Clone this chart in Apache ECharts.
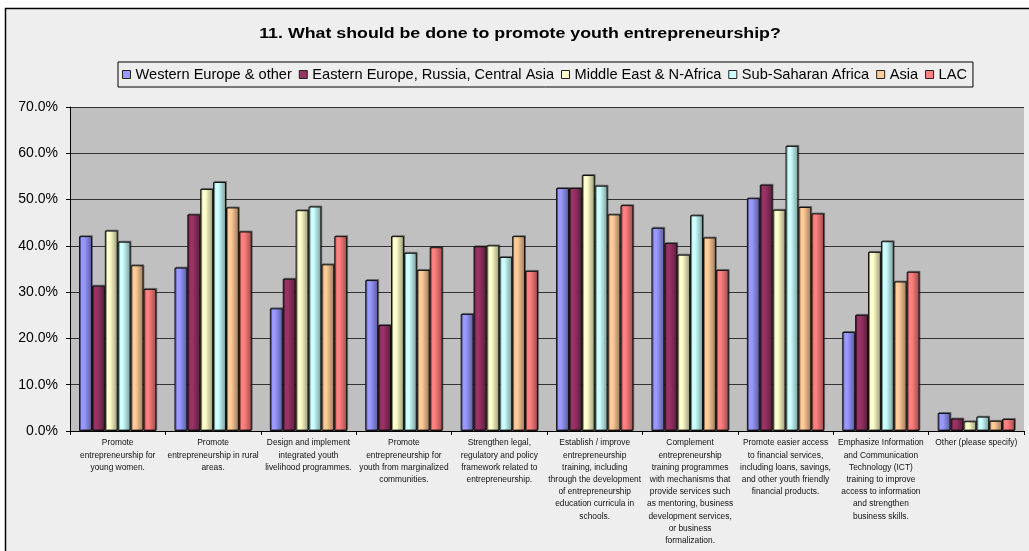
<!DOCTYPE html>
<html>
<head>
<meta charset="utf-8">
<script src="https://cdn.jsdelivr.net/npm/echarts@6/dist/echarts.min.js"></script>
<style>
  html, body { margin: 0; padding: 0; background: #ffffff; }
  #chart { width: 1029px; height: 551px; }
</style>
</head>
<body>
<div id="chart"></div>
<script>
// Survey question 11: share of respondents per region choosing each measure (%)
const categories = [
  'Promote\nentrepreneurship for\nyoung women.',
  'Promote\nentrepreneurship in rural\nareas.',
  'Design and implement\nintegrated youth\nlivelihood programmes.',
  'Promote\nentrepreneurship for\nyouth from marginalized\ncommunities.',
  'Strengthen legal,\nregulatory and policy\nframework related to\nentrepreneurship.',
  'Establish / improve\nentrepreneurship\ntraining, including\nthrough the development\nof entrepreneurship\neducation curricula in\nschools.',
  'Complement\nentrepreneurship\ntraining programmes\nwith mechanisms that\nprovide services such\nas mentoring, business\ndevelopment services,\nor business\nformalization.',
  'Promote easier access\nto financial services,\nincluding loans, savings,\nand other youth friendly\nfinancial products.',
  'Emphasize Information\nand Communication\nTechnology (ICT)\ntraining to improve\naccess to information\nand strengthen\nbusiness skills.',
  'Other (please specify)'
];

const seriesNames = [
  'Western Europe & other',
  'Eastern Europe, Russia, Central Asia',
  'Middle East & N-Africa',
  'Sub-Saharan Africa',
  'Asia',
  'LAC'
];

const westernEurope = [42.1, 35.3, 26.5, 32.6, 25.3, 52.5, 43.9, 50.3, 21.4, 3.9];
const easternEurope = [31.4, 46.8, 32.9, 22.9, 39.9, 52.5, 40.6, 53.2, 25.1, 2.7];
const middleEast    = [43.3, 52.3, 47.7, 42.1, 40.1, 55.3, 38.1, 47.8, 38.7, 2.1];
const subSaharan    = [40.9, 53.8, 48.5, 38.5, 37.6, 53.0, 46.6, 61.6, 41.0, 3.1];
const asia          = [35.8, 48.3, 36.0, 34.8, 42.1, 46.8, 41.8, 48.4, 32.3, 2.2];
const lac           = [30.7, 43.1, 42.1, 39.7, 34.6, 48.8, 34.8, 47.0, 34.4, 2.6];

const yTicks = [0, 10, 20, 30, 40, 50, 60, 70];

const titleText = '11. What should be done to promote youth entrepreneurship?';

const seriesValues = [westernEurope, easternEurope, middleEast, subSaharan, asia, lac];

// base fill and shaded edge for each region's bars
const palette = [
  ['#9999ff', '#5a5a9c'],
  ['#993366', '#5a1e3c'],
  ['#ffffcc', '#9a9a78'],
  ['#ccffff', '#789a9a'],
  ['#ffcc99', '#9a785a'],
  ['#ff8080', '#9c4a4a']
];

function shaded(pair) {
  return {
    type: 'linear', x: 0, y: 0, x2: 1, y2: 0,
    colorStops: [
      { offset: 0, color: pair[1] },
      { offset: 0.18, color: pair[0] },
      { offset: 0.4, color: pair[0] },
      { offset: 1, color: pair[1] }
    ]
  };
}

const FONT = 'Liberation Sans, Arial, sans-serif';

const chart = echarts.init(document.getElementById('chart'), null, { renderer: 'canvas' });

chart.setOption({
  backgroundColor: '#ffffff',
  animation: false,
  graphic: [
    {
      type: 'rect',
      z: -10,
      shape: { x: 5.5, y: 8.5, width: 1100, height: 600 },
      style: { fill: '#eeeeee', stroke: '#000000', lineWidth: 1.5 }
    },
    {
      // wide bold heading
      type: 'text',
      x: 520,
      y: 34,
      scaleX: 1.27,
      style: {
        text: titleText,
        font: 'bold 14px ' + FONT,
        fill: '#000',
        textAlign: 'center',
        textVerticalAlign: 'middle'
      }
    }
  ],
  legend: {
    data: seriesNames.map((n, i) => ({ name: n, itemStyle: { color: palette[i][0], borderColor: '#222', borderWidth: 1 } })),
    left: 118,
    top: 62,
    padding: [5, 6, 5, 4],
    borderColor: '#000',
    borderWidth: 1,
    backgroundColor: '#eeeeee',
    itemWidth: 8,
    itemHeight: 8,
    itemGap: 7,
    icon: 'rect',
    textStyle: { fontFamily: FONT, fontSize: 14.6, color: '#000' }
  },
  grid: {
    left: 70, right: 5, top: 107, bottom: 120,
    show: true, backgroundColor: '#c0c0c0', borderWidth: 0
  },
  xAxis: {
    type: 'category',
    data: categories,
    axisLine: { lineStyle: { color: '#000', width: 1 } },
    axisTick: { show: true, length: 4, lineStyle: { color: '#000' } },
    axisLabel: {
      interval: 0,
      fontFamily: FONT,
      fontSize: 8.4,
      lineHeight: 12.2,
      color: '#111',
      margin: 6,
      verticalAlign: 'top'
    }
  },
  yAxis: {
    type: 'value',
    min: yTicks[0],
    max: yTicks[yTicks.length - 1],
    interval: 10,
    axisLine: { show: true, lineStyle: { color: '#000', width: 1 } },
    axisTick: { show: true, length: 4, lineStyle: { color: '#000' } },
    splitLine: { show: true, lineStyle: { color: '#333', width: 1 } },
    axisLabel: {
      fontFamily: FONT,
      fontSize: 14,
      color: '#000',
      margin: 12,
      formatter: v => v.toFixed(1) + '%'
    }
  },
  series: seriesNames.map((name, i) => ({
    name: name,
    type: 'bar',
    data: seriesValues[i],
    barGap: '0%',
    barCategoryGap: '19%',
    itemStyle: {
      color: shaded(palette[i]),
      borderColor: '#111',
      borderWidth: 1,
      shadowColor: 'rgba(0,0,0,0.35)',
      shadowOffsetX: 1,
      shadowOffsetY: -1,
      shadowBlur: 0
    }
  }))
});
</script>
</body>
</html>
